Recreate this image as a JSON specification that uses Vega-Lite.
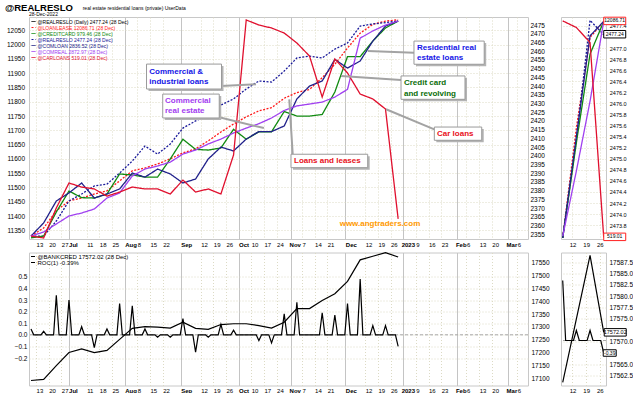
{
  "$schema": "https://vega.github.io/schema/vega-lite/v6.json",
  "padding": {"left": 4, "top": 2, "right": 0, "bottom": 0},
  "background": "#ffffff",
  "config": {
    "font": "Liberation Sans",
    "view": {"stroke": "#c8c8c8"},
    "axis": {"domain": false, "ticks": false, "labelFont": "Liberation Sans", "labelFontSize": 6.5, "labelColor": "#000000", "gridColor": "#dcdac4", "gridDash": [1, 2], "labelOverlap": false, "labelFlush": false, "labelBound": false},
    "legend": {"labelFont": "Liberation Sans"},
    "text": {"font": "Liberation Sans"}
  },
  "datasets": {
    "main": [
      {"d": "2022-06-08", "ll": 11330, "rr": 2354.0, "cc": 2353.0, "cl": 2354.0, "cr": 2354.0, "ca": 2354.0, "bk": 17091},
      {"d": "2022-06-15", "ll": 11358, "rr": 2354.0, "cc": 2354.0, "cl": 2361.5, "cr": 2356.3, "ca": 2352.9, "bk": 17095},
      {"d": "2022-06-22", "ll": 11418, "rr": 2362.6, "cc": 2367.8, "cl": 2374.1, "cr": 2360.9, "ca": 2370.1, "bk": 17149},
      {"d": "2022-06-29", "ll": 11453, "rr": 2374.1, "cc": 2379.8, "cl": 2378.7, "cr": 2365.5, "ca": 2384.4, "bk": 17200},
      {"d": "2022-07-06", "ll": 11463, "rr": 2378.1, "cc": 2376.0, "cl": 2384.4, "cr": 2367.2, "ca": 2382.1, "bk": 17214},
      {"d": "2022-07-13", "ll": 11477, "rr": 2382.7, "cc": 2375.8, "cl": 2375.8, "cr": 2369.5, "ca": 2381.0, "bk": 17200},
      {"d": "2022-07-20", "ll": 11488, "rr": 2383.8, "cc": 2378.1, "cl": 2378.1, "cr": 2375.8, "ca": 2376.9, "bk": 17208},
      {"d": "2022-07-27", "ll": 11523, "rr": 2390.1, "cc": 2389.6, "cl": 2381.0, "cr": 2378.7, "ca": 2379.2, "bk": 17251},
      {"d": "2022-08-03", "ll": 11558, "rr": 2397.0, "cc": 2389.0, "cl": 2390.1, "cr": 2388.4, "ca": 2382.1, "bk": 17294},
      {"d": "2022-08-10", "ll": 11568, "rr": 2405.6, "cc": 2387.8, "cl": 2387.8, "cr": 2392.4, "ca": 2381.0, "bk": 17301},
      {"d": "2022-08-17", "ll": 11582, "rr": 2401.0, "cc": 2387.8, "cl": 2392.4, "cr": 2394.2, "ca": 2381.0, "bk": 17299},
      {"d": "2022-08-24", "ll": 11600, "rr": 2406.8, "cc": 2398.2, "cl": 2389.6, "cr": 2396.4, "ca": 2378.1, "bk": 17295},
      {"d": "2022-08-31", "ll": 11621, "rr": 2415.9, "cc": 2409.5, "cl": 2384.4, "cr": 2401.0, "ca": 2386.1, "bk": 17318},
      {"d": "2022-09-07", "ll": 11635, "rr": 2420.0, "cc": 2403.7, "cl": 2386.7, "cr": 2403.3, "ca": 2379.2, "bk": 17294},
      {"d": "2022-09-14", "ll": 11663, "rr": 2423.4, "cc": 2403.3, "cl": 2398.2, "cr": 2406.8, "ca": 2381.0, "bk": 17290},
      {"d": "2022-09-21", "ll": 11694, "rr": 2429.1, "cc": 2404.5, "cl": 2405.0, "cr": 2409.6, "ca": 2378.1, "bk": 17309},
      {"d": "2022-09-28", "ll": 11722, "rr": 2432.6, "cc": 2415.2, "cl": 2402.8, "cr": 2413.1, "ca": 2400.5, "bk": 17312},
      {"d": "2022-10-05", "ll": 11747, "rr": 2438.3, "cc": 2409.5, "cl": 2409.6, "cr": 2415.9, "ca": 2477.9, "bk": 17312},
      {"d": "2022-10-12", "ll": 11768, "rr": 2442.9, "cc": 2413.8, "cl": 2413.9, "cr": 2418.4, "ca": 2475.0, "bk": 17305},
      {"d": "2022-10-19", "ll": 11779, "rr": 2442.3, "cc": 2413.8, "cl": 2413.9, "cr": 2421.7, "ca": 2473.3, "bk": 17295},
      {"d": "2022-10-26", "ll": 11812, "rr": 2448.6, "cc": 2425.4, "cl": 2417.1, "cr": 2426.0, "ca": 2470.4, "bk": 17318},
      {"d": "2022-11-02", "ll": 11832, "rr": 2456.1, "cc": 2422.8, "cl": 2432.6, "cr": 2428.6, "ca": 2464.7, "bk": 17371},
      {"d": "2022-11-09", "ll": 11843, "rr": 2457.2, "cc": 2422.8, "cl": 2440.0, "cr": 2429.7, "ca": 2457.2, "bk": 17371},
      {"d": "2022-11-16", "ll": 11884, "rr": 2456.1, "cc": 2423.7, "cl": 2442.9, "cr": 2430.8, "ca": 2433.7, "bk": 17403},
      {"d": "2022-11-23", "ll": 11931, "rr": 2461.2, "cc": 2436.6, "cl": 2455.3, "cr": 2433.7, "ca": 2455.5, "bk": 17429},
      {"d": "2022-11-30", "ll": 11988, "rr": 2464.7, "cc": 2456.9, "cl": 2450.3, "cr": 2438.1, "ca": 2447.5, "bk": 17477},
      {"d": "2022-12-07", "ll": 12040, "rr": 2474.4, "cc": 2456.9, "cl": 2454.4, "cr": 2467.5, "ca": 2435.4, "bk": 17561},
      {"d": "2022-12-14", "ll": 12071, "rr": 2475.6, "cc": 2465.8, "cl": 2465.8, "cr": 2471.6, "ca": 2432.6, "bk": 17575},
      {"d": "2022-12-21", "ll": 12082, "rr": 2476.4, "cc": 2473.3, "cl": 2474.4, "cr": 2475.0, "ca": 2426.8, "bk": 17589},
      {"d": "2022-12-28", "ll": 12086.71, "rr": 2477.24, "cc": 2477.3, "cl": 2477.3, "cr": 2477.3, "ca": 2363.8, "bk": 17572.02}
    ],
    "roc": [
      {"d": "2022-06-08", "r": 0.05}, {"d": "2022-06-09T12:00:00Z", "r": 0},
      {"d": "2022-06-13T12:00:00Z", "r": 0}, {"d": "2022-06-15", "r": 0.03}, {"d": "2022-06-16T12:00:00Z", "r": 0},
      {"d": "2022-06-20T12:00:00Z", "r": 0}, {"d": "2022-06-22", "r": 0.34}, {"d": "2022-06-23T12:00:00Z", "r": 0},
      {"d": "2022-06-27T12:00:00Z", "r": 0}, {"d": "2022-06-29", "r": 0.30}, {"d": "2022-06-30T12:00:00Z", "r": 0},
      {"d": "2022-07-04T12:00:00Z", "r": 0}, {"d": "2022-07-06", "r": 0.07}, {"d": "2022-07-07T12:00:00Z", "r": 0},
      {"d": "2022-07-11T12:00:00Z", "r": 0}, {"d": "2022-07-13", "r": -0.11}, {"d": "2022-07-14T12:00:00Z", "r": 0},
      {"d": "2022-07-18T12:00:00Z", "r": 0}, {"d": "2022-07-20", "r": 0.05}, {"d": "2022-07-21T12:00:00Z", "r": 0},
      {"d": "2022-07-25T12:00:00Z", "r": 0}, {"d": "2022-07-27", "r": 0.27}, {"d": "2022-07-28T12:00:00Z", "r": 0},
      {"d": "2022-08-01T12:00:00Z", "r": 0}, {"d": "2022-08-03", "r": 0.25}, {"d": "2022-08-04T12:00:00Z", "r": 0},
      {"d": "2022-08-08T12:00:00Z", "r": 0}, {"d": "2022-08-10", "r": 0.05}, {"d": "2022-08-11T12:00:00Z", "r": 0},
      {"d": "2022-08-15T12:00:00Z", "r": 0}, {"d": "2022-08-17", "r": -0.02}, {"d": "2022-08-18T12:00:00Z", "r": 0},
      {"d": "2022-08-22T12:00:00Z", "r": 0}, {"d": "2022-08-24", "r": -0.02}, {"d": "2022-08-25T12:00:00Z", "r": 0},
      {"d": "2022-08-29T12:00:00Z", "r": 0}, {"d": "2022-08-31", "r": 0.14}, {"d": "2022-09-01T12:00:00Z", "r": 0},
      {"d": "2022-09-05T12:00:00Z", "r": 0}, {"d": "2022-09-07", "r": -0.15}, {"d": "2022-09-08T12:00:00Z", "r": 0},
      {"d": "2022-09-12T12:00:00Z", "r": 0}, {"d": "2022-09-14", "r": -0.02}, {"d": "2022-09-15T12:00:00Z", "r": 0},
      {"d": "2022-09-19T12:00:00Z", "r": 0}, {"d": "2022-09-21", "r": 0.09}, {"d": "2022-09-22T12:00:00Z", "r": 0},
      {"d": "2022-09-26T12:00:00Z", "r": 0}, {"d": "2022-09-28", "r": 0.04}, {"d": "2022-09-29T12:00:00Z", "r": 0},
      {"d": "2022-10-10T12:00:00Z", "r": 0}, {"d": "2022-10-12", "r": -0.05}, {"d": "2022-10-13T12:00:00Z", "r": 0},
      {"d": "2022-10-17T12:00:00Z", "r": 0}, {"d": "2022-10-19", "r": -0.07}, {"d": "2022-10-20T12:00:00Z", "r": 0},
      {"d": "2022-10-24T12:00:00Z", "r": 0}, {"d": "2022-10-26", "r": 0.18}, {"d": "2022-10-27T12:00:00Z", "r": 0},
      {"d": "2022-10-31T12:00:00Z", "r": 0}, {"d": "2022-11-02", "r": 0.28}, {"d": "2022-11-03T12:00:00Z", "r": 0},
      {"d": "2022-11-14T12:00:00Z", "r": 0}, {"d": "2022-11-16", "r": 0.19}, {"d": "2022-11-17T12:00:00Z", "r": 0},
      {"d": "2022-11-21T12:00:00Z", "r": 0}, {"d": "2022-11-23", "r": 0.17}, {"d": "2022-11-24T12:00:00Z", "r": 0},
      {"d": "2022-11-28T12:00:00Z", "r": 0}, {"d": "2022-11-30", "r": 0.27}, {"d": "2022-12-01T12:00:00Z", "r": 0},
      {"d": "2022-12-05T12:00:00Z", "r": 0}, {"d": "2022-12-07", "r": 0.48}, {"d": "2022-12-08T12:00:00Z", "r": 0},
      {"d": "2022-12-12T12:00:00Z", "r": 0}, {"d": "2022-12-14", "r": 0.08}, {"d": "2022-12-15T12:00:00Z", "r": 0},
      {"d": "2022-12-19T12:00:00Z", "r": 0}, {"d": "2022-12-21", "r": 0.08}, {"d": "2022-12-22T12:00:00Z", "r": 0},
      {"d": "2022-12-26T12:00:00Z", "r": 0}, {"d": "2022-12-28", "r": -0.10}
    ],
    "mini": [
      {"d": "2022-12-07", "ll": 2473.57, "rr": 2473.57, "cc": 2473.57, "cl": 2473.57, "cr": 2473.6, "ca": 2477.49},
      {"d": "2022-12-14", "ll": 2475.56, "rr": 2475.34, "cc": 2475.29, "cl": 2475.4, "cr": 2474.78, "ca": 2477.37},
      {"d": "2022-12-21", "ll": 2477.19, "rr": 2477.5, "cc": 2476.89, "cl": 2477.22, "cr": 2476.04, "ca": 2477.1},
      {"d": "2022-12-28", "ll": 2477.48, "rr": 2477.24, "cc": 2477.48, "cl": 2477.48, "cr": 2477.48, "ca": 2473.58}
    ],
    "mtbox": [
      {"d": "2022-12-28", "v": 2477.48, "t": "12086.71", "k": "ll"},
      {"d": "2022-12-28", "v": 2477.24, "t": "2477.24", "k": "rr"},
      {"d": "2022-12-28", "v": 2473.58, "t": "519.01", "k": "ca"}
    ],
    "notes": [
      {"x": "2022-08-12T10:00:00Z", "y": 2448.2, "t": "Commercial  &", "k": "ci"},
      {"x": "2022-08-12T10:00:00Z", "y": 2442.5, "t": "industrial loans", "k": "ci"},
      {"x": "2022-08-21T02:00:00Z", "y": 2431.6, "t": "Commercial", "k": "cre"},
      {"x": "2022-08-21T02:00:00Z", "y": 2425.7, "t": "real estate", "k": "cre"},
      {"x": "2022-10-31T10:00:00Z", "y": 2397.0, "t": "Loans and leases", "k": "ll"},
      {"x": "2023-01-07T10:00:00Z", "y": 2462.0, "t": "Residential real", "k": "res"},
      {"x": "2023-01-07T10:00:00Z", "y": 2456.25, "t": "estate loans", "k": "res"},
      {"x": "2022-12-31T05:00:00Z", "y": 2441.9, "t": "Credit card", "k": "cc"},
      {"x": "2022-12-31T05:00:00Z", "y": 2435.6, "t": "and revolving", "k": "cc"},
      {"x": "2023-01-18T12:00:00Z", "y": 2412.7, "t": "Car loans", "k": "car"}
    ],
    "boxes": [
      {"x1": "2022-08-10T21:00:00Z", "x2": "2022-09-21T08:00:00Z", "y1": 2452.6, "y2": 2438.3},
      {"x1": "2022-08-19T20:00:00Z", "x2": "2022-09-20T02:00:00Z", "y1": 2435.4, "y2": 2421.7},
      {"x1": "2022-10-29T18:00:00Z", "x2": "2022-12-11T04:00:00Z", "y1": 2400.9, "y2": 2393.2},
      {"x1": "2023-01-05T18:00:00Z", "x2": "2023-02-13T14:00:00Z", "y1": 2465.8, "y2": 2452.5},
      {"x1": "2022-12-29T14:00:00Z", "x2": "2023-02-02T23:00:00Z", "y1": 2445.8, "y2": 2432.4},
      {"x1": "2023-01-17T00:00:00Z", "x2": "2023-02-12T05:00:00Z", "y1": 2416.5, "y2": 2408.9}
    ],
    "callouts": [
      {"x1": "2022-09-21T01:00:00Z", "y1": 2440.0, "x2": "2022-10-10T10:00:00Z", "y2": 2441.0},
      {"x1": "2022-09-17T05:00:00Z", "y1": 2422.8, "x2": "2022-10-14T19:00:00Z", "y2": 2415.9},
      {"x1": "2022-10-28T19:00:00Z", "y1": 2432.4, "x2": "2022-10-30T17:00:00Z", "y2": 2400.9},
      {"x1": "2022-12-11T05:00:00Z", "y1": 2460.1, "x2": "2023-01-05T18:00:00Z", "y2": 2459.1},
      {"x1": "2022-11-26T10:00:00Z", "y1": 2445.8, "x2": "2022-12-29T14:00:00Z", "y2": 2443.5},
      {"x1": "2022-12-21T07:00:00Z", "y1": 2426.7, "x2": "2023-01-17T00:00:00Z", "y2": 2415.2}
    ]
  },
  "spacing": 1.5,
  "bounds": "full",
  "resolve": {"scale": {"color": "independent", "strokeDash": "independent", "stroke": "independent", "fill": "independent"}},
  "vconcat": [
    {
      "spacing": 33,
      "bounds": "flush",
      "resolve": {"scale": {"color": "independent", "strokeDash": "independent", "stroke": "independent", "fill": "independent"}},
      "hconcat": [
        {
          "width": 499,
          "height": 222,
          "resolve": {"scale": {"y": "independent"}},
          "layer": [
            {
              "data": {"name": "main"},
              "mark": {"type": "line", "strokeWidth": 1.3},
              "encoding": {
                "x": {"field": "d", "type": "temporal", "title": null,
                  "scale": {"type": "utc", "domain": [{"year": 2022, "month": 6, "date": 6, "hours": 21, "minutes": 30, "utc": true}, {"year": 2023, "month": 3, "date": 9, "hours": 19, "utc": true}]},
                  "axis": {"title": null, "grid": true, "labelPadding": 2, "labelOverlap": false, "tickCount": 200, "tickOffset": -4, "labelAlign": "left", "labelFontSize": 6,
                    "labelOffset": {"condition": {"test": "utcdate(datum.value) <= 3 && (utcmonth(datum.value) == 0 || utcmonth(datum.value) == 1 || utcmonth(datum.value) == 2 || utcmonth(datum.value) == 10)", "value": -2}, "value": 0},
                    "values": [{"year":2022,"month":6,"date":13,"utc":true},{"year":2022,"month":6,"date":20,"utc":true},{"year":2022,"month":6,"date":27,"utc":true},{"year":2022,"month":7,"date":1,"utc":true},{"year":2022,"month":7,"date":11,"utc":true},{"year":2022,"month":7,"date":18,"utc":true},{"year":2022,"month":7,"date":25,"utc":true},{"year":2022,"month":8,"date":1,"utc":true},{"year":2022,"month":8,"date":8,"utc":true},{"year":2022,"month":8,"date":15,"utc":true},{"year":2022,"month":8,"date":22,"utc":true},{"year":2022,"month":9,"date":1,"utc":true},{"year":2022,"month":9,"date":12,"utc":true},{"year":2022,"month":9,"date":19,"utc":true},{"year":2022,"month":9,"date":26,"utc":true},{"year":2022,"month":10,"date":3,"utc":true},{"year":2022,"month":10,"date":10,"utc":true},{"year":2022,"month":10,"date":17,"utc":true},{"year":2022,"month":10,"date":24,"utc":true},{"year":2022,"month":11,"date":1,"utc":true},{"year":2022,"month":11,"date":7,"utc":true},{"year":2022,"month":11,"date":14,"utc":true},{"year":2022,"month":11,"date":21,"utc":true},{"year":2022,"month":12,"date":1,"utc":true},{"year":2022,"month":12,"date":12,"utc":true},{"year":2022,"month":12,"date":19,"utc":true},{"year":2022,"month":12,"date":26,"utc":true},{"year":2023,"month":1,"date":2,"utc":true},{"year":2023,"month":1,"date":9,"utc":true},{"year":2023,"month":1,"date":16,"utc":true},{"year":2023,"month":1,"date":23,"utc":true},{"year":2023,"month":2,"date":1,"utc":true},{"year":2023,"month":2,"date":6,"utc":true},{"year":2023,"month":2,"date":13,"utc":true},{"year":2023,"month":2,"date":20,"utc":true},{"year":2023,"month":3,"date":1,"utc":true},{"year":2023,"month":3,"date":6,"utc":true}],
                    "labelExpr": "utcdate(datum.value) <= 3 ? (utcmonth(datum.value) == 0 ? '2023' : utcFormat(datum.value, '%b')) : utcFormat(datum.value, '%-d')",
                    "labelFontWeight": {"condition": {"test": "utcdate(datum.value) <= 3", "value": "bold"}, "value": "normal"},
                    "gridDash": {"condition": {"test": "utcdate(datum.value) <= 3", "value": []}, "value": [1, 2]},
                    "gridColor": {"condition": {"test": "utcdate(datum.value) <= 3", "value": "#c4c4c4"}, "value": "#dcdac4"}
                  }
                },
                "y": {"field": "ll", "type": "quantitative", "title": null,
                  "scale": {"domain": [11319.5, 12096.5], "nice": false, "zero": false},
                  "axis": {"orient": "left", "title": null, "grid": true, "format": "d", "labelPadding": 4.5, "labelOverlap": false, "tickCount": 200, "values": [11350, 11400, 11450, 11500, 11550, 11600, 11650, 11700, 11750, 11800, 11850, 11900, 11950, 12000, 12050]}
                },
                "color": {"datum": "ll", "type": "nominal",
                  "scale": {"domain": ["rd", "ll", "cc", "rr", "cl", "cr", "ca"], "range": ["#000000", "#ff1a1a", "#108a10", "#1a1a9a", "#20208a", "#a040f0", "#e0102e"]},
                  "legend": {"orient": "top-left", "offset": 2, "padding": 0, "rowPadding": 0, "title": null, "symbolType": "stroke", "symbolSize": 16, "symbolStrokeWidth": 1, "labelFontSize": 5, "labelOffset": 1.5, "labelLimit": 400,
                    "labelExpr": "datum.value=='rd'?'@REALRESLO (Daily) 2477.24 (28 Dec)':datum.value=='ll'?'@LOANLEASE 12086.71 (28 Dec)':datum.value=='cc'?'@CREDITCARD 979.46 (28 Dec)':datum.value=='rr'?'@REALRESLO 2477.24 (28 Dec)':datum.value=='cl'?'@COMLOAN 2836.52 (28 Dec)':datum.value=='cr'?'@COMREAL 2872.97 (28 Dec)':'@CARLOANS 519.01 (28 Dec)'",
                    "labelColor": {"expr": "datum.value=='rd'?'#000000':datum.value=='ll'?'#ff1a1a':datum.value=='cc'?'#108a10':datum.value=='rr'?'#1a1a9a':datum.value=='cl'?'#20208a':datum.value=='cr'?'#a040f0':'#e0102e'"}}
                },
                "strokeDash": {"datum": "ll", "type": "nominal",
                  "scale": {"domain": ["rd", "ll", "cc", "rr", "cl", "cr", "ca"], "range": [[1, 0], [2, 1.5], [1, 0], [2, 1.5], [1, 0], [1, 0], [1, 0]]},
                  "legend": {"orient": "top-left", "offset": 2, "padding": 0, "rowPadding": 0, "title": null, "symbolType": "stroke", "symbolSize": 16, "symbolStrokeWidth": 1, "labelFontSize": 5, "labelOffset": 1.5, "labelLimit": 400,
                    "labelExpr": "datum.value=='rd'?'@REALRESLO (Daily) 2477.24 (28 Dec)':datum.value=='ll'?'@LOANLEASE 12086.71 (28 Dec)':datum.value=='cc'?'@CREDITCARD 979.46 (28 Dec)':datum.value=='rr'?'@REALRESLO 2477.24 (28 Dec)':datum.value=='cl'?'@COMLOAN 2836.52 (28 Dec)':datum.value=='cr'?'@COMREAL 2872.97 (28 Dec)':'@CARLOANS 519.01 (28 Dec)'",
                    "labelColor": {"expr": "datum.value=='rd'?'#000000':datum.value=='ll'?'#ff1a1a':datum.value=='cc'?'#108a10':datum.value=='rr'?'#1a1a9a':datum.value=='cl'?'#20208a':datum.value=='cr'?'#a040f0':'#e0102e'"}}
                }
              }
            },
            {
              "layer": [
                {
                  "data": {"name": "main"},
                  "transform": [{"fold": ["rr", "cc", "cl", "cr", "ca"], "as": ["s", "v"]}],
                  "mark": {"type": "line", "strokeWidth": 1.3},
                  "encoding": {
                    "x": {"field": "d", "type": "temporal", "title": null, "scale": {"type": "utc", "domain": [{"year": 2022, "month": 6, "date": 6, "hours": 21, "minutes": 30, "utc": true}, {"year": 2023, "month": 3, "date": 9, "hours": 19, "utc": true}]}},
                    "y": {"field": "v", "type": "quantitative", "title": null,
                      "scale": {"domain": [2352.3, 2479.6], "nice": false, "zero": false},
                      "axis": {"orient": "right", "title": null, "grid": false, "format": "d", "labelPadding": 2, "labelOverlap": false, "tickCount": 200, "values": [2355, 2360, 2365, 2370, 2375, 2380, 2385, 2390, 2395, 2400, 2405, 2410, 2415, 2420, 2425, 2430, 2435, 2440, 2445, 2450, 2455, 2460, 2465, 2470, 2475]}
                    },
                    "color": {"field": "s", "type": "nominal",
                      "scale": {"domain": ["rd", "ll", "cc", "rr", "cl", "cr", "ca"], "range": ["#000000", "#ff1a1a", "#108a10", "#1a1a9a", "#20208a", "#a040f0", "#e0102e"]},
                      "legend": {"orient": "top-left", "offset": 2, "padding": 0, "rowPadding": 0, "title": null, "symbolType": "stroke", "symbolSize": 16, "symbolStrokeWidth": 1, "labelFontSize": 5, "labelOffset": 1.5, "labelLimit": 400,
                        "labelExpr": "datum.value=='rd'?'@REALRESLO (Daily) 2477.24 (28 Dec)':datum.value=='ll'?'@LOANLEASE 12086.71 (28 Dec)':datum.value=='cc'?'@CREDITCARD 979.46 (28 Dec)':datum.value=='rr'?'@REALRESLO 2477.24 (28 Dec)':datum.value=='cl'?'@COMLOAN 2836.52 (28 Dec)':datum.value=='cr'?'@COMREAL 2872.97 (28 Dec)':'@CARLOANS 519.01 (28 Dec)'",
                        "labelColor": {"expr": "datum.value=='rd'?'#000000':datum.value=='ll'?'#ff1a1a':datum.value=='cc'?'#108a10':datum.value=='rr'?'#1a1a9a':datum.value=='cl'?'#20208a':datum.value=='cr'?'#a040f0':'#e0102e'"}}
                    },
                    "strokeDash": {"field": "s", "type": "nominal",
                      "scale": {"domain": ["rd", "ll", "cc", "rr", "cl", "cr", "ca"], "range": [[1, 0], [2, 1.5], [1, 0], [2, 1.5], [1, 0], [1, 0], [1, 0]]},
                      "legend": {"orient": "top-left", "offset": 2, "padding": 0, "rowPadding": 0, "title": null, "symbolType": "stroke", "symbolSize": 16, "symbolStrokeWidth": 1, "labelFontSize": 5, "labelOffset": 1.5, "labelLimit": 400,
                        "labelExpr": "datum.value=='rd'?'@REALRESLO (Daily) 2477.24 (28 Dec)':datum.value=='ll'?'@LOANLEASE 12086.71 (28 Dec)':datum.value=='cc'?'@CREDITCARD 979.46 (28 Dec)':datum.value=='rr'?'@REALRESLO 2477.24 (28 Dec)':datum.value=='cl'?'@COMLOAN 2836.52 (28 Dec)':datum.value=='cr'?'@COMREAL 2872.97 (28 Dec)':'@CARLOANS 519.01 (28 Dec)'",
                        "labelColor": {"expr": "datum.value=='rd'?'#000000':datum.value=='ll'?'#ff1a1a':datum.value=='cc'?'#108a10':datum.value=='rr'?'#1a1a9a':datum.value=='cl'?'#20208a':datum.value=='cr'?'#a040f0':'#e0102e'"}}
                    }
                  }
                },
                {
                  "data": {"name": "callouts"},
                  "mark": {"type": "rule", "color": "#a3a3a3", "strokeWidth": 2},
                  "encoding": {
                    "x": {"field": "x1", "type": "temporal", "title": null, "scale": {"type": "utc", "domain": [{"year": 2022, "month": 6, "date": 6, "hours": 21, "minutes": 30, "utc": true}, {"year": 2023, "month": 3, "date": 9, "hours": 19, "utc": true}]}},
                    "x2": {"field": "x2"},
                    "y": {"field": "y1", "type": "quantitative", "title": null, "scale": {"domain": [2352.3, 2479.6], "nice": false, "zero": false}},
                    "y2": {"field": "y2"}
                  }
                },
                {
                  "data": {"name": "boxes"},
                  "mark": {"type": "rect", "fill": "#b4b4b4", "xOffset": 2, "x2Offset": 2, "yOffset": 2, "y2Offset": 2},
                  "encoding": {
                    "x": {"field": "x1", "type": "temporal", "title": null, "scale": {"type": "utc", "domain": [{"year": 2022, "month": 6, "date": 6, "hours": 21, "minutes": 30, "utc": true}, {"year": 2023, "month": 3, "date": 9, "hours": 19, "utc": true}]}},
                    "x2": {"field": "x2"},
                    "y": {"field": "y1", "type": "quantitative", "title": null, "scale": {"domain": [2352.3, 2479.6], "nice": false, "zero": false}},
                    "y2": {"field": "y2"}
                  }
                },
                {
                  "data": {"name": "boxes"},
                  "mark": {"type": "rect", "fill": "#ffffff", "stroke": "#9a9a9a", "strokeWidth": 1},
                  "encoding": {
                    "x": {"field": "x1", "type": "temporal", "title": null, "scale": {"type": "utc", "domain": [{"year": 2022, "month": 6, "date": 6, "hours": 21, "minutes": 30, "utc": true}, {"year": 2023, "month": 3, "date": 9, "hours": 19, "utc": true}]}},
                    "x2": {"field": "x2"},
                    "y": {"field": "y1", "type": "quantitative", "title": null, "scale": {"domain": [2352.3, 2479.6], "nice": false, "zero": false}},
                    "y2": {"field": "y2"}
                  }
                },
                {
                  "data": {"name": "notes"},
                  "mark": {"type": "text", "align": "left", "baseline": "middle", "fontSize": 8, "fontWeight": "bold"},
                  "encoding": {
                    "x": {"field": "x", "type": "temporal", "title": null, "scale": {"type": "utc", "domain": [{"year": 2022, "month": 6, "date": 6, "hours": 21, "minutes": 30, "utc": true}, {"year": 2023, "month": 3, "date": 9, "hours": 19, "utc": true}]}},
                    "y": {"field": "y", "type": "quantitative", "title": null, "scale": {"domain": [2352.3, 2479.6], "nice": false, "zero": false}},
                    "text": {"field": "t"},
                    "fill": {"field": "k", "type": "nominal", "legend": null, "scale": {"domain": ["ci", "cre", "ll", "res", "cc", "car"], "range": ["#1414e6", "#a23cf0", "#e8101a", "#1414e6", "#0a6e0a", "#e8101a"]}}
                  }
                },
                {
                  "data": {"values": [{}]},
                  "mark": {"type": "text", "align": "center", "baseline": "middle", "fontSize": 8, "fontWeight": "bold", "color": "#ff9900", "text": "www.angtraders.com"},
                  "encoding": {
                    "x": {"datum": {"year": 2022, "month": 12, "date": 17, "hours": 23, "utc": true}, "type": "temporal", "title": null, "scale": {"type": "utc", "domain": [{"year": 2022, "month": 6, "date": 6, "hours": 21, "minutes": 30, "utc": true}, {"year": 2023, "month": 3, "date": 9, "hours": 19, "utc": true}]}},
                    "y": {"datum": 2360.7, "type": "quantitative", "title": null, "scale": {"domain": [2352.3, 2479.6], "nice": false, "zero": false}}
                  }
                },
                {
                  "data": {"values": [{}]},
                  "mark": {"type": "text", "align": "left", "baseline": "middle", "fontSize": 9.5, "fontWeight": "bold", "color": "#000000", "dx": -24, "text": "@REALRESLO"},
                  "encoding": {
                    "x": {"datum": {"year": 2022, "month": 6, "date": 6, "hours": 21, "minutes": 30, "utc": true}, "type": "temporal", "title": null, "scale": {"type": "utc", "domain": [{"year": 2022, "month": 6, "date": 6, "hours": 21, "minutes": 30, "utc": true}, {"year": 2023, "month": 3, "date": 9, "hours": 19, "utc": true}]}},
                    "y": {"datum": 2485.0, "type": "quantitative", "title": null, "scale": {"domain": [2352.3, 2479.6], "nice": false, "zero": false}}
                  }
                },
                {
                  "data": {"values": [{}]},
                  "mark": {"type": "text", "align": "left", "baseline": "middle", "fontSize": 5, "color": "#000000", "dx": 53.7, "text": "real estate residential loans (private) UserData"},
                  "encoding": {
                    "x": {"datum": {"year": 2022, "month": 6, "date": 6, "hours": 21, "minutes": 30, "utc": true}, "type": "temporal", "title": null, "scale": {"type": "utc", "domain": [{"year": 2022, "month": 6, "date": 6, "hours": 21, "minutes": 30, "utc": true}, {"year": 2023, "month": 3, "date": 9, "hours": 19, "utc": true}]}},
                    "y": {"datum": 2484.7, "type": "quantitative", "title": null, "scale": {"domain": [2352.3, 2479.6], "nice": false, "zero": false}}
                  }
                },
                {
                  "data": {"values": [{}]},
                  "mark": {"type": "text", "align": "left", "baseline": "middle", "fontSize": 5, "color": "#000000", "dx": 0, "text": "28-Dec-2022"},
                  "encoding": {
                    "x": {"datum": {"year": 2022, "month": 6, "date": 6, "hours": 21, "minutes": 30, "utc": true}, "type": "temporal", "title": null, "scale": {"type": "utc", "domain": [{"year": 2022, "month": 6, "date": 6, "hours": 21, "minutes": 30, "utc": true}, {"year": 2023, "month": 3, "date": 9, "hours": 19, "utc": true}]}},
                    "y": {"datum": 2481.1, "type": "quantitative", "title": null, "scale": {"domain": [2352.3, 2479.6], "nice": false, "zero": false}}
                  }
                }
              ]
            }
          ]
        },
        {
          "width": 45,
          "height": 222,
          "layer": [
            {
              "data": {"name": "mini"},
              "transform": [{"fold": ["ll", "rr", "cc", "cl", "cr", "ca"], "as": ["s", "v"]}],
              "mark": {"type": "line", "strokeWidth": 1.3},
              "encoding": {
                "x": {"field": "d", "type": "temporal", "title": null,
                  "scale": {"type": "utc", "domain": [{"year": 2022, "month": 12, "date": 6, "hours": 3, "utc": true}, {"year": 2022, "month": 12, "date": 29, "hours": 4, "utc": true}]},
                  "axis": {"title": null, "grid": true, "labelPadding": 2, "labelFontSize": 6, "labelOverlap": false, "tickCount": 200, "values": [{"year":2022,"month":12,"date":12,"utc":true},{"year":2022,"month":12,"date":19,"utc":true},{"year":2022,"month":12,"date":26,"utc":true}], "labelExpr": "utcFormat(datum.value, '%-d')"}
                },
                "y": {"field": "v", "type": "quantitative", "title": null,
                  "scale": {"domain": [2473.55, 2477.56], "nice": false, "zero": false},
                  "axis": {"orient": "right", "title": null, "grid": true, "format": ".1f", "labelPadding": 3.3, "labelFontSize": 5.5, "labelOverlap": false, "tickCount": 200, "values": [2473.8, 2474.0, 2474.2, 2474.4, 2474.6, 2474.8, 2475.0, 2475.2, 2475.4, 2475.6, 2475.8, 2476.0, 2476.2, 2476.4, 2476.6, 2476.8, 2477.0, 2477.4]}
                },
                "color": {"field": "s", "type": "nominal", "legend": null, "scale": {"domain": ["rd", "ll", "cc", "rr", "cl", "cr", "ca"], "range": ["#000000", "#ff1a1a", "#108a10", "#1a1a9a", "#20208a", "#a040f0", "#e0102e"]}},
                "strokeDash": {"field": "s", "type": "nominal", "legend": null, "scale": {"domain": ["rd", "ll", "cc", "rr", "cl", "cr", "ca"], "range": [[1, 0], [2, 1.5], [1, 0], [2, 1.5], [1, 0], [1, 0], [1, 0]]}}
              }
            },
            {
              "data": {"name": "mtbox"},
              "mark": {"type": "point", "shape": "M-1,-0.34H1V0.34H-1Z", "size": 484, "filled": true, "fill": "#ffffff", "strokeWidth": 1, "opacity": 1, "xOffset": 11, "yOffset": -0.5},
              "encoding": {
                "x": {"field": "d", "type": "temporal", "title": null, "scale": {"type": "utc", "domain": [{"year": 2022, "month": 12, "date": 6, "hours": 3, "utc": true}, {"year": 2022, "month": 12, "date": 29, "hours": 4, "utc": true}]}},
                "y": {"field": "v", "type": "quantitative", "title": null, "scale": {"domain": [2473.55, 2477.56], "nice": false, "zero": false}},
                "stroke": {"field": "k", "type": "nominal", "legend": null, "scale": {"domain": ["ll", "rr", "ca"], "range": ["#ff2020", "#000000", "#ff2020"]}}
              }
            },
            {
              "data": {"name": "mtbox"},
              "mark": {"type": "text", "align": "center", "baseline": "middle", "fontSize": 5, "color": "#000000", "dx": 11, "dy": -1},
              "encoding": {
                "x": {"field": "d", "type": "temporal", "title": null, "scale": {"type": "utc", "domain": [{"year": 2022, "month": 12, "date": 6, "hours": 3, "utc": true}, {"year": 2022, "month": 12, "date": 29, "hours": 4, "utc": true}]}},
                "y": {"field": "v", "type": "quantitative", "title": null, "scale": {"domain": [2473.55, 2477.56], "nice": false, "zero": false}},
                "text": {"field": "t"}
              }
            }
          ]
        }
      ]
    },
    {
      "spacing": 33,
      "bounds": "flush",
      "resolve": {"scale": {"color": "independent", "strokeDash": "independent", "stroke": "independent", "fill": "independent"}},
      "hconcat": [
        {
          "width": 499,
          "height": 133,
          "resolve": {"scale": {"y": "independent"}},
          "layer": [
            {
              "layer": [
                {
                  "data": {"values": [{}]},
                  "mark": {"type": "rule", "color": "#a8a8a8", "strokeDash": [3, 2], "strokeWidth": 1},
                  "encoding": {
                    "y": {"datum": 0, "type": "quantitative", "title": null,
                      "scale": {"domain": [-0.437, 0.7095], "nice": false, "zero": false},
                      "axis": {"orient": "left", "title": null, "grid": true, "format": ".1f", "labelPadding": 2, "labelOverlap": false, "tickCount": 200, "values": [-0.2, -0.1, 0, 0.1, 0.2, 0.3, 0.4, 0.5]}
                    }
                  }
                },
                {
                  "data": {"name": "roc"},
                  "mark": {"type": "line", "strokeWidth": 1.2},
                  "encoding": {
                    "x": {"field": "d", "type": "temporal", "title": null,
                      "scale": {"type": "utc", "domain": [{"year": 2022, "month": 6, "date": 6, "hours": 21, "minutes": 30, "utc": true}, {"year": 2023, "month": 3, "date": 9, "hours": 19, "utc": true}]},
                      "axis": {"title": null, "grid": true, "labelPadding": 1.5, "labelOverlap": false, "tickCount": 200, "tickOffset": -4, "labelAlign": "left", "labelFontSize": 6,
                        "labelOffset": {"condition": {"test": "utcdate(datum.value) <= 3 && (utcmonth(datum.value) == 0 || utcmonth(datum.value) == 1 || utcmonth(datum.value) == 2 || utcmonth(datum.value) == 10)", "value": -2}, "value": 0},
                        "values": [{"year":2022,"month":6,"date":13,"utc":true},{"year":2022,"month":6,"date":20,"utc":true},{"year":2022,"month":6,"date":27,"utc":true},{"year":2022,"month":7,"date":1,"utc":true},{"year":2022,"month":7,"date":11,"utc":true},{"year":2022,"month":7,"date":18,"utc":true},{"year":2022,"month":7,"date":25,"utc":true},{"year":2022,"month":8,"date":1,"utc":true},{"year":2022,"month":8,"date":8,"utc":true},{"year":2022,"month":8,"date":15,"utc":true},{"year":2022,"month":8,"date":22,"utc":true},{"year":2022,"month":9,"date":1,"utc":true},{"year":2022,"month":9,"date":12,"utc":true},{"year":2022,"month":9,"date":19,"utc":true},{"year":2022,"month":9,"date":26,"utc":true},{"year":2022,"month":10,"date":3,"utc":true},{"year":2022,"month":10,"date":10,"utc":true},{"year":2022,"month":10,"date":17,"utc":true},{"year":2022,"month":10,"date":24,"utc":true},{"year":2022,"month":11,"date":1,"utc":true},{"year":2022,"month":11,"date":7,"utc":true},{"year":2022,"month":11,"date":14,"utc":true},{"year":2022,"month":11,"date":21,"utc":true},{"year":2022,"month":12,"date":1,"utc":true},{"year":2022,"month":12,"date":12,"utc":true},{"year":2022,"month":12,"date":19,"utc":true},{"year":2022,"month":12,"date":26,"utc":true},{"year":2023,"month":1,"date":2,"utc":true},{"year":2023,"month":1,"date":9,"utc":true},{"year":2023,"month":1,"date":16,"utc":true},{"year":2023,"month":1,"date":23,"utc":true},{"year":2023,"month":2,"date":1,"utc":true},{"year":2023,"month":2,"date":6,"utc":true},{"year":2023,"month":2,"date":13,"utc":true},{"year":2023,"month":2,"date":20,"utc":true},{"year":2023,"month":3,"date":1,"utc":true},{"year":2023,"month":3,"date":6,"utc":true}],
                        "labelExpr": "utcdate(datum.value) <= 3 ? (utcmonth(datum.value) == 0 ? '2023' : utcFormat(datum.value, '%b')) : utcFormat(datum.value, '%-d')",
                        "labelFontWeight": {"condition": {"test": "utcdate(datum.value) <= 3", "value": "bold"}, "value": "normal"},
                        "gridDash": {"condition": {"test": "utcdate(datum.value) <= 3", "value": []}, "value": [1, 2]},
                        "gridColor": {"condition": {"test": "utcdate(datum.value) <= 3", "value": "#c4c4c4"}, "value": "#dcdac4"}
                      }
                    },
                    "y": {"field": "r", "type": "quantitative", "title": null, "scale": {"domain": [-0.437, 0.7095], "nice": false, "zero": false}},
                    "color": {"datum": "roc", "type": "nominal",
                      "scale": {"domain": ["bk", "roc"], "range": ["#000000", "#000000"]},
                      "legend": {"orient": "top-left", "offset": 1.2, "padding": 0, "rowPadding": 0, "title": null, "symbolType": "stroke", "symbolSize": 16, "symbolStrokeWidth": 1, "labelFontSize": 6, "labelOffset": 1.5, "labelLimit": 400, "labelColor": "#000000",
                        "labelExpr": "datum.value=='bk'?'@BANKCRED 17572.02 (28 Dec)':'ROC(1) -0.39%'"}
                    }
                  }
                }
              ]
            },
            {
              "data": {"name": "main"},
              "mark": {"type": "line", "strokeWidth": 1.2},
              "encoding": {
                "x": {"field": "d", "type": "temporal", "title": null, "scale": {"type": "utc", "domain": [{"year": 2022, "month": 6, "date": 6, "hours": 21, "minutes": 30, "utc": true}, {"year": 2023, "month": 3, "date": 9, "hours": 19, "utc": true}]}},
                "y": {"field": "bk", "type": "quantitative", "title": null,
                  "scale": {"domain": [17071.5, 17589.6], "nice": false, "zero": false},
                  "axis": {"orient": "right", "title": null, "grid": false, "format": "d", "labelPadding": 3, "labelOverlap": false, "tickCount": 200, "values": [17100, 17150, 17200, 17250, 17300, 17350, 17400, 17450, 17500, 17550]}
                },
                "color": {"datum": "bk", "type": "nominal",
                  "scale": {"domain": ["bk", "roc"], "range": ["#000000", "#000000"]},
                  "legend": {"orient": "top-left", "offset": 1.2, "padding": 0, "rowPadding": 0, "title": null, "symbolType": "stroke", "symbolSize": 16, "symbolStrokeWidth": 1, "labelFontSize": 6, "labelOffset": 1.5, "labelLimit": 400, "labelColor": "#000000",
                    "labelExpr": "datum.value=='bk'?'@BANKCRED 17572.02 (28 Dec)':'ROC(1) -0.39%'"}
                }
              }
            }
          ]
        },
        {
          "width": 45,
          "height": 133,
          "resolve": {"scale": {"y": "independent"}},
          "layer": [
            {
              "layer": [
                {
                  "data": {"values": [{}]},
                  "mark": {"type": "rule", "color": "#a8a8a8", "strokeDash": [3, 2], "strokeWidth": 1},
                  "encoding": {
                    "y": {"datum": 0, "type": "quantitative", "axis": null, "scale": {"domain": [-0.36, 0.704], "nice": false, "zero": false}}
                  }
                },
                {
                  "data": {"name": "roc"},
                  "transform": [{"filter": "time(datum.d) >= time('2022-12-07')"}],
                  "mark": {"type": "line", "strokeWidth": 1.2, "color": "#000000"},
                  "encoding": {
                    "x": {"field": "d", "type": "temporal", "title": null,
                      "scale": {"type": "utc", "domain": [{"year": 2022, "month": 12, "date": 6, "hours": 3, "utc": true}, {"year": 2022, "month": 12, "date": 29, "hours": 4, "utc": true}]},
                      "axis": {"title": null, "grid": true, "labelPadding": 1.5, "labelFontSize": 6, "labelOverlap": false, "tickCount": 200, "values": [{"year":2022,"month":12,"date":12,"utc":true},{"year":2022,"month":12,"date":19,"utc":true},{"year":2022,"month":12,"date":26,"utc":true}], "labelExpr": "utcFormat(datum.value, '%-d')"}
                    },
                    "y": {"field": "r", "type": "quantitative", "axis": null, "scale": {"domain": [-0.36, 0.704], "nice": false, "zero": false}}
                  }
                },
                {
                  "data": {"values": [{}]},
                  "mark": {"type": "point", "shape": "M-1,-0.5H1V0.5H-1Z", "size": 169, "filled": true, "fill": "#ffffff", "stroke": "#000000", "strokeWidth": 1, "opacity": 1, "xOffset": 6},
                  "encoding": {
                    "x": {"datum": {"year": 2022, "month": 12, "date": 28, "utc": true}, "type": "temporal", "title": null, "scale": {"type": "utc", "domain": [{"year": 2022, "month": 12, "date": 6, "hours": 3, "utc": true}, {"year": 2022, "month": 12, "date": 29, "hours": 4, "utc": true}]}},
                    "y": {"datum": -0.1, "type": "quantitative", "axis": null, "scale": {"domain": [-0.36, 0.704], "nice": false, "zero": false}}
                  }
                },
                {
                  "data": {"values": [{}]},
                  "mark": {"type": "text", "align": "center", "baseline": "middle", "fontSize": 5, "color": "#000000", "dx": 6, "text": "-0.39"},
                  "encoding": {
                    "x": {"datum": {"year": 2022, "month": 12, "date": 28, "utc": true}, "type": "temporal", "title": null, "scale": {"type": "utc", "domain": [{"year": 2022, "month": 12, "date": 6, "hours": 3, "utc": true}, {"year": 2022, "month": 12, "date": 29, "hours": 4, "utc": true}]}},
                    "y": {"datum": -0.1, "type": "quantitative", "axis": null, "scale": {"domain": [-0.36, 0.704], "nice": false, "zero": false}}
                  }
                }
              ]
            },
            {
              "layer": [
                {
                  "data": {"name": "main"},
                  "transform": [{"filter": "time(datum.d) >= time('2022-12-07')"}],
                  "mark": {"type": "line", "strokeWidth": 1.2, "color": "#000000"},
                  "encoding": {
                    "x": {"field": "d", "type": "temporal", "title": null, "scale": {"type": "utc", "domain": [{"year": 2022, "month": 12, "date": 6, "hours": 3, "utc": true}, {"year": 2022, "month": 12, "date": 29, "hours": 4, "utc": true}]}},
                    "y": {"field": "bk", "type": "quantitative", "title": null,
                      "scale": {"domain": [17560.29, 17589.64], "nice": false, "zero": false},
                      "axis": {"orient": "right", "title": null, "grid": true, "format": ".1f", "labelPadding": 3, "labelOverlap": false, "tickCount": 200, "values": [17562.5, 17565, 17570, 17575, 17577.5, 17580, 17582.5, 17585, 17587.5]}
                    }
                  }
                },
                {
                  "data": {"values": [{}]},
                  "mark": {"type": "point", "shape": "M-1,-0.34H1V0.34H-1Z", "size": 484, "filled": true, "fill": "#ffffff", "stroke": "#000000", "strokeWidth": 1, "opacity": 1, "xOffset": 11.5},
                  "encoding": {
                    "x": {"datum": {"year": 2022, "month": 12, "date": 28, "utc": true}, "type": "temporal", "title": null, "scale": {"type": "utc", "domain": [{"year": 2022, "month": 12, "date": 6, "hours": 3, "utc": true}, {"year": 2022, "month": 12, "date": 29, "hours": 4, "utc": true}]}},
                    "y": {"datum": 17572.02, "type": "quantitative", "title": null, "scale": {"domain": [17560.29, 17589.64], "nice": false, "zero": false}}
                  }
                },
                {
                  "data": {"values": [{}]},
                  "mark": {"type": "text", "align": "center", "baseline": "middle", "fontSize": 5.5, "color": "#000000", "dx": 11.5, "text": "17572.02"},
                  "encoding": {
                    "x": {"datum": {"year": 2022, "month": 12, "date": 28, "utc": true}, "type": "temporal", "title": null, "scale": {"type": "utc", "domain": [{"year": 2022, "month": 12, "date": 6, "hours": 3, "utc": true}, {"year": 2022, "month": 12, "date": 29, "hours": 4, "utc": true}]}},
                    "y": {"datum": 17572.02, "type": "quantitative", "title": null, "scale": {"domain": [17560.29, 17589.64], "nice": false, "zero": false}}
                  }
                }
              ]
            }
          ]
        }
      ]
    }
  ]
}
